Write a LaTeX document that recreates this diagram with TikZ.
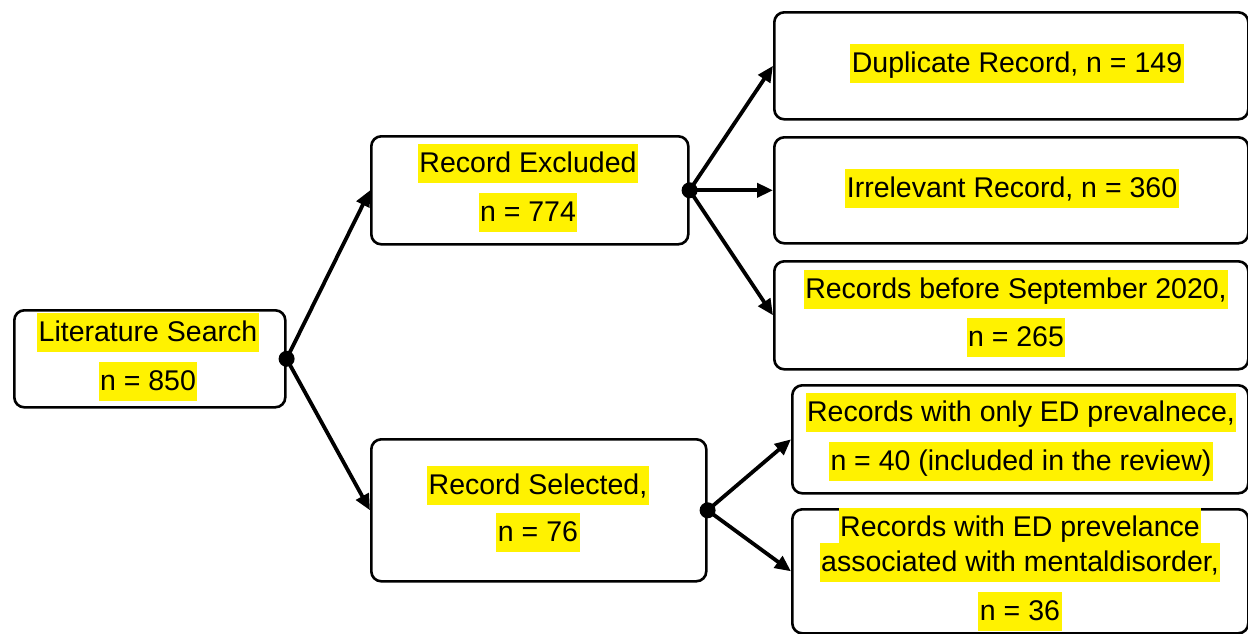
\documentclass[tikz,border=0pt]{standalone}
\usepackage{fontspec}
\setmainfont{Liberation Sans}
\usetikzlibrary{arrows.meta}
\begin{document}
\begin{tikzpicture}[x=1pt,y=-1pt,
  box/.style={draw=black, line width=2.6pt, rounded corners=10pt, inner sep=0pt, anchor=north west},
  hl/.style={fill=yellow, inner xsep=1.5pt, inner ysep=0pt, text height=29pt, text depth=10pt,
    font=\fontsize{28.5}{34}\selectfont, anchor=center},
  conn/.style={line width=3.8pt, -{Triangle[length=16pt,width=14pt]}},
  dotn/.style={circle, fill=black, inner sep=0pt, minimum size=16pt}]
\useasboundingbox (0,0) rectangle (1248,633);
% boxes
\node[box, minimum width=271pt, minimum height=97pt]  (lit) at (13,309) {};
\node[box, minimum width=317pt, minimum height=108pt] (exc) at (370,135) {};
\node[box, minimum width=335pt, minimum height=142pt] (sel) at (370,438) {};
\node[box, minimum width=474pt, minimum height=107pt] (dup) at (773,11) {};
\node[box, minimum width=474pt, minimum height=106pt] (irr) at (773,136) {};
\node[box, minimum width=474pt, minimum height=108pt] (bef) at (773,260) {};
\node[box, minimum width=456pt, minimum height=108pt] (only) at (791,384) {};
\node[box, minimum width=456pt, minimum height=124pt] (assoc) at (791,508) {};
% dots
\node[dotn] (d1) at (lit.east) {};
\node[dotn] (d2) at (exc.east) {};
\node[dotn] (d3) at (sel.east) {};
% connectors
\draw[conn] (d1.center) -- (exc.west);
\draw[conn] (d1.center) -- (sel.west);
\draw[conn] (d2.center) -- (dup.west);
\draw[conn] (d2.center) -- (irr.west);
\draw[conn] (d2.center) -- (bef.west);
\draw[conn] (d3.center) -- (only.west);
\draw[conn] (d3.center) -- (assoc.west);
% texts
\node[hl] (t1) at (148,332) {Literature Search};
\node[hl] (t2) at (148,381) {n = 850};
\node[hl] (t3) at (528,163) {Record Excluded};
\node[hl] (t4) at (528,212) {n = 774};
\node[hl] (t5) at (538,485) {Record Selected,\ };
\node[hl] (t6) at (538,532) {n = 76};
\node[hl] (t7) at (1017,63) {Duplicate Record, n = 149};
\node[hl] (t8) at (1012,188) {Irrelevant Record, n = 360};
\node[hl] (t9) at (1016,289) {Records before September 2020,};
\node[hl] (t10) at (1016,337) {n = 265};
\node[hl] (t11) at (1021,412) {Records with only ED prevalnece,};
\node[hl] (t12) at (1021,461) {n = 40 (included in the review)};
\node[hl] (t13) at (1020,527) {Records with ED prevelance\ };
\node[hl] (t14) at (1020,562) {associated with mentaldisorder,};
\node[hl] (t15) at (1020,611) {n = 36};
\end{tikzpicture}
\end{document}
